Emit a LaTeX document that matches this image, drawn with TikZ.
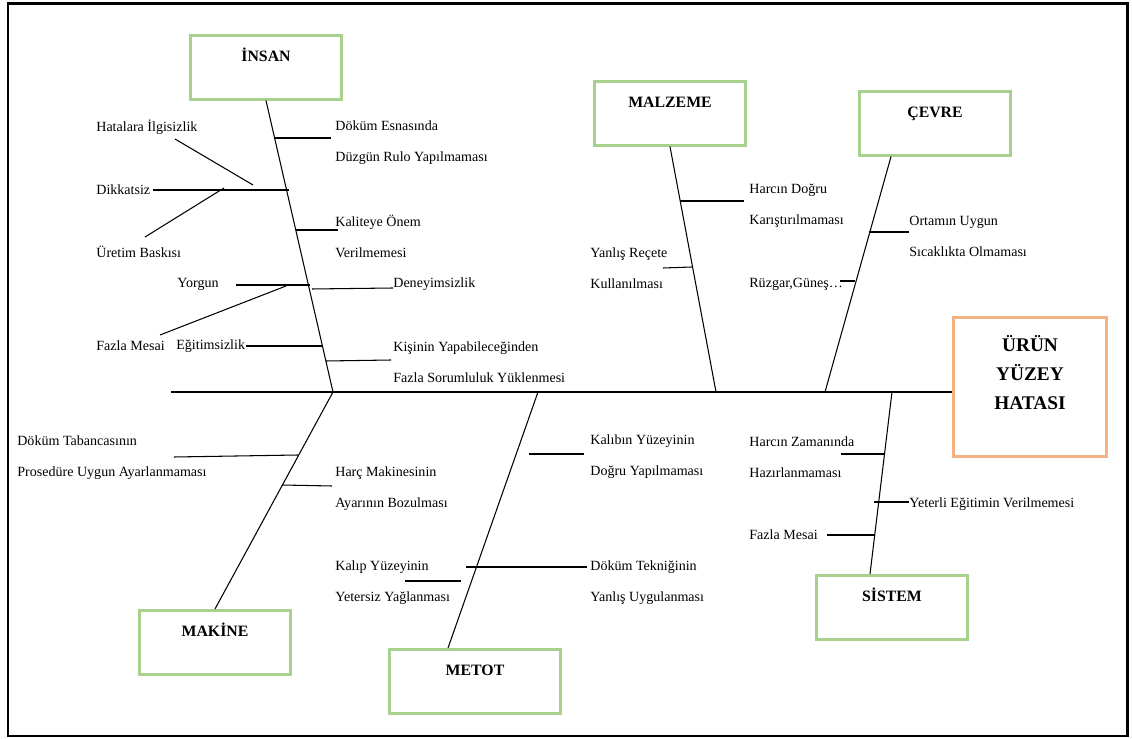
\documentclass[tikz,border=0pt]{standalone}
\usepackage{fontspec}
\setmainfont{Liberation Serif}
\usepackage{xcolor}
\usetikzlibrary{positioning}
\definecolor{boxgreen}{RGB}{169,209,142}
\definecolor{headorange}{RGB}{244,177,131}

\tikzset{
  cause/.style={font=\fontsize{8}{17.6}\selectfont, inner sep=0pt, anchor=west, align=left},
  catbox/.style={draw=boxgreen, line width=1.7pt, font=\fontsize{9}{11}\selectfont\bfseries, inner sep=0pt, minimum width=86pt, text height=14.7pt, text depth=21.5pt, anchor=north},
  bone/.style={line width=0.6pt}
}

\begin{document}
\begin{tikzpicture}[x=0.02cm, y=-0.02cm]
	\useasboundingbox (0,0) rectangle (1132,739);
	\draw[line width=1.7pt] (8,4) rectangle (1127,736);

	%head
	\node[draw=headorange, line width=1.7pt, minimum width=87pt, minimum height=79pt, align=center, font=\fontsize{11}{16.4}\selectfont\bfseries] (urun) at (1030,387) {ÜRÜN\\YÜZEY\\HATASI\\\mbox{}};

	%categories
	\node[catbox] (insan) at (266,34) {İNSAN};
	\node[catbox] (malzeme) at (670,80) {MALZEME};
	\node[catbox] (cevre) at (935,90) {ÇEVRE};
	\node[catbox] (makine) at (215,609) {MAKİNE};
	\node[catbox, minimum width=97pt] (metot) at (475,648) {METOT};
	\node[catbox] (sistem) at (892,574) {SİSTEM};

	% spine
	\coordinate (tail) at (171,392);
	\coordinate (s1) at (333,392);
	\coordinate (s2) at (716,392);
	\coordinate (s3) at (825,392);
	\coordinate (s4) at (538,392);
	\coordinate (s5) at (892,392);
	\draw[bone] (tail) -- (tail -| urun.west);

	% bones
	\draw[bone] (insan.south) -- (s1);
	\draw[bone] (malzeme.south) -- (s2);
	\draw[bone] (cevre.south) ++(-44,0) -- (s3);
	\draw[bone] (makine.north) -- (s1);
	\draw[bone] (metot.north) ++(-27,0) -- (s4);
	\draw[bone] (sistem.north) ++(-22,0) -- (s5);

	% insan
	\node[cause] (dokum) at (335,142.5) {Döküm Esnasında\\Düzgün Rulo Yapılmaması};
	\draw[bone] (275,138) -- (331,138);
	\node[cause] (ilgisiz) at (96,127) {Hatalara İlgisizlik};
	\draw[bone] (175,139) -- (253,185);
	\node[cause] (dikkat) at (96,190) {Dikkatsiz};
	\draw[bone] (153,190) -- (289,190);
	\node[cause] (baski) at (96,252) {Üretim Baskısı};
	\draw[bone] (145,237) -- (224,188);
	\node[cause] (kalite) at (335,236.5) {Kaliteye Önem\\Verilmemesi};
	\draw[bone] (296,230) -- (338,230);
	\node[cause] (yorgun) at (177,284) {Yorgun};
	\draw[bone] (236,285) -- (310,285);
	\node[cause] (deney) at (393,284) {Deneyimsizlik};
	\draw[bone] (312,289) -- (393,288);
	\node[cause] (mesai1) at (96,346) {Fazla Mesai};
	\draw[bone] (160,335) -- (286,286);
	\node[cause] (egitim) at (176,346) {Eğitimsizlik};
	\draw[bone] (246,346) -- (322,346);
	\node[cause] (kisi) at (393,362.5) {Kişinin Yapabileceğinden\\Fazla Sorumluluk Yüklenmesi};
	\draw[bone] (326,361) -- (391,360);

	% malzeme
	\node[cause] (harcdogru) at (749,205.5) {Harcın Doğru\\Karıştırılmaması};
	\draw[bone] (680,201) -- (744,201);
	\node[cause] (recete) at (590,268) {Yanlış Reçete\\Kullanılması};
	\draw[bone] (663,268) -- (692,267);

	% cevre
	\node[cause] (ortam) at (909,236.5) {Ortamın Uygun\\Sıcaklıkta Olmaması};
	\draw[bone] (869,232) -- (909,232);
	\node[cause] (ruzgar) at (749,284) {Rüzgar,Güneş…};
	\draw[bone] (840,281) -- (855,281);

	% makine
	\node[cause] (tabanca) at (17,457.5) {Döküm Tabancasının\\Prosedüre Uygun Ayarlanmaması};
	\draw[bone] (174,457) -- (298,455);
	\node[cause] (harcmak) at (335,488.5) {Harç Makinesinin\\Ayarının Bozulması};
	\draw[bone] (282,485) -- (332,486);

	% metot
	\node[cause] (kalibin) at (590,457) {Kalıbın Yüzeyinin\\Doğru Yapılmaması};
	\draw[bone] (529,454) -- (584,454);
	\node[cause] (kalip) at (335,582.5) {Kalıp Yüzeyinin\\Yetersiz Yağlanması};
	\draw[bone] (405,581) -- (461,581);
	\node[cause] (teknik) at (590,582.5) {Döküm Tekniğinin\\Yanlış Uygulanması};
	\draw[bone] (466,567) -- (587,567);

	% sistem
	\node[cause] (zaman) at (749,457) {Harcın Zamanında\\Hazırlanmaması};
	\draw[bone] (841,454) -- (885,454);
	\node[cause] (yeterli) at (909,504) {Yeterli Eğitimin Verilmemesi};
	\draw[bone] (874,502) -- (909,502);
	\node[cause] (mesai2) at (749,535) {Fazla Mesai};
	\draw[bone] (827,535) -- (875,535);
\end{tikzpicture}
\end{document}
